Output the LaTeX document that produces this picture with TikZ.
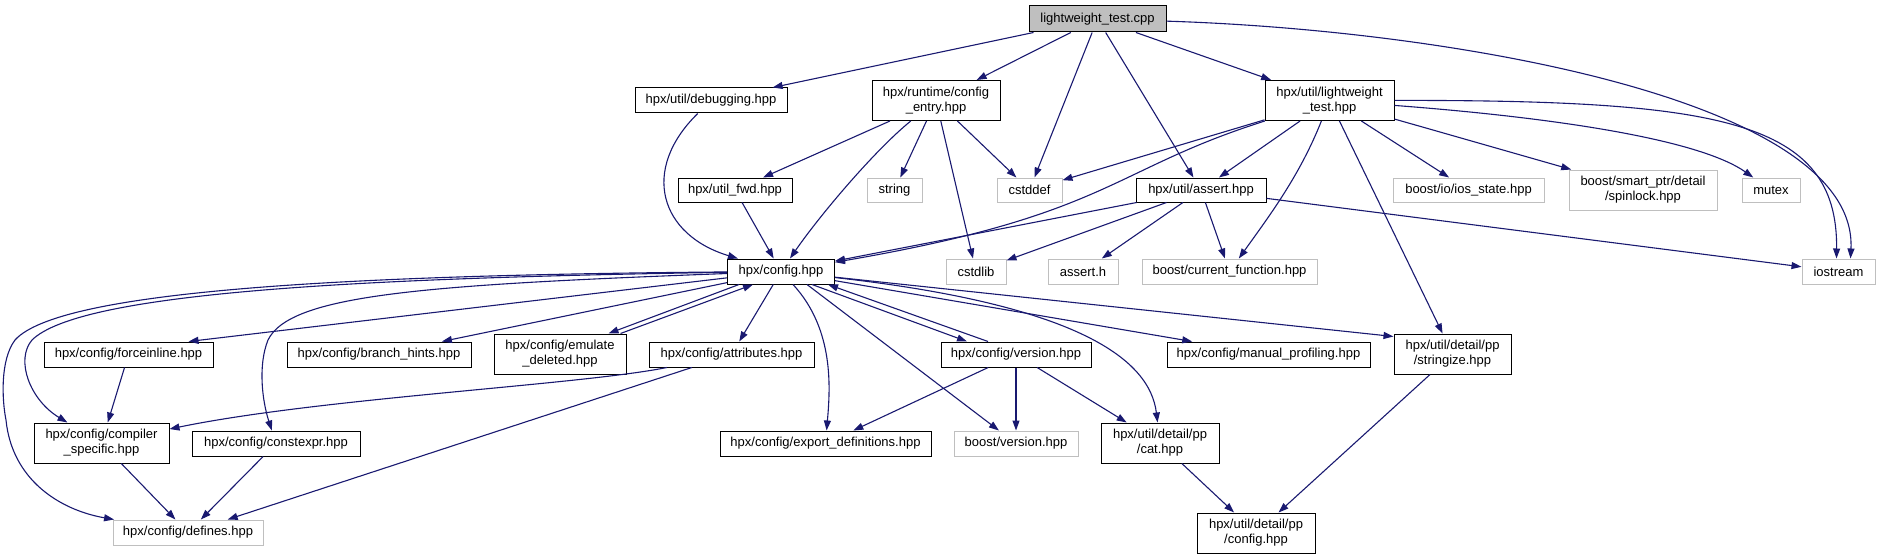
\documentclass[tikz,border=0pt]{standalone}
\usepackage{fontspec}
\setmainfont{Liberation Sans}
\usetikzlibrary{arrows.meta,positioning,calc}
\definecolor{incblue}{HTML}{191970}
\definecolor{extgray}{HTML}{BFBFBF}

\begin{document}
\begin{tikzpicture}[x=1pt, y=-1pt, font=\fontsize{13}{15}\selectfont, >={Triangle[length=10pt,width=7pt]},
  file/.style={draw=black, fill=white, line width=1pt, inner sep=0pt, minimum height=25pt, align=center},
  tall/.style={minimum height=40pt},
  ext/.style={file, draw=extgray},
  inc/.style={->, draw=incblue, line width=1.1pt}]

\useasboundingbox (0,0) rectangle (1878,559);

% Root file
\node[file, fill=extgray, minimum width=137pt, minimum height=26pt] (root) at (1097.5,19) {lightweight\_test.cpp};

% First row
\node[file, minimum width=152pt] (dbg) at (711,100.5) {hpx/util/debugging.hpp};
\node[file, tall, minimum width=128pt] (entry) at (936,100.5) {hpx/runtime/config\\\_entry.hpp};
\node[file, tall, minimum width=129pt] (lwt) at (1329.5,100.5) {hpx/util/lightweight\\\_test.hpp};

% Second row
\node[file, minimum width=114pt, minimum height=24pt] (fwd) at (735,190) {hpx/util\_fwd.hpp};
\node[ext, minimum width=55pt, minimum height=24pt] (string) at (894.5,190) {string};
\node[ext, minimum width=65pt, minimum height=24pt] (cstddef) at (1029.5,190) {cstddef};
\node[file, minimum width=130pt, minimum height=24pt] (assert) at (1201,190) {hpx/util/assert.hpp};
\node[ext, minimum width=151pt, minimum height=24pt] (ios) at (1468.5,190) {boost/io/ios\_state.hpp};
\node[ext, tall, minimum width=148pt] (spin) at (1643,190) {boost/smart\_ptr/detail\\/spinlock.hpp};
\node[ext, minimum width=58pt, minimum height=24pt] (mutex) at (1771,190) {mutex};

% Third row
\node[file, minimum width=107pt] (cfg) at (781,271.5) {hpx/config.hpp};
\node[ext, minimum width=60pt] (cstdlib) at (976,271.5) {cstdlib};
\node[ext, minimum width=70pt] (asserth) at (1083,271.5) {assert.h};
\node[ext, minimum width=175pt] (curfn) at (1229.5,271.5) {boost/current\_function.hpp};
\node[ext, minimum width=73pt] (iostream) at (1838.5,271.5) {iostream};

% Fourth row
\node[file, minimum width=169pt] (force) at (128.5,354.5) {hpx/config/forceinline.hpp};
\node[file, minimum width=184pt] (branch) at (379,354.5) {hpx/config/branch\_hints.hpp};
\node[file, tall, minimum width=132pt] (emu) at (560,354) {hpx/config/emulate\\\_deleted.hpp};
\node[file, minimum width=165pt] (attr) at (731.5,354.5) {hpx/config/attributes.hpp};
\node[file, minimum width=150pt] (ver) at (1016,354.5) {hpx/config/version.hpp};
\node[file, minimum width=203pt] (manual) at (1268.5,354.5) {hpx/config/manual\_profiling.hpp};
\node[file, tall, minimum width=117pt] (stringize) at (1452.5,354) {hpx/util/detail/pp\\/stringize.hpp};

% Fifth row
\node[file, tall, minimum width=135pt] (compiler) at (101.5,443) {hpx/config/compiler\\\_specific.hpp};
\node[file, minimum width=168pt] (constexpr) at (276,443.5) {hpx/config/constexpr.hpp};
\node[file, minimum width=211pt] (export) at (825.5,443.5) {hpx/config/export\_definitions.hpp};
\node[ext, minimum width=124pt] (bver) at (1016,443.5) {boost/version.hpp};
\node[file, tall, minimum width=118pt] (cat) at (1160,443) {hpx/util/detail/pp\\/cat.hpp};

% Bottom row
\node[ext, minimum width=150pt] (defines) at (188,532.5) {hpx/config/defines.hpp};
\node[file, tall, minimum width=118pt] (ppcfg) at (1256,533) {hpx/util/detail/pp\\/config.hpp};

% Includes of the root
\draw[inc] (root) -- (dbg);
\draw[inc] (root) -- (entry);
\draw[inc] (root) -- (cstddef);
\draw[inc] (root) -- (assert);
\draw[inc] (root) -- (lwt);
\draw[inc] (root) .. controls (1450,30) and (1858,100) .. ([xshift=12pt]iostream.north);

% debugging, config_entry, util_fwd
\draw[inc] (dbg) .. controls (640,170) and (660,235) .. (cfg);
\draw[inc] (entry) -- (fwd);
\draw[inc] (entry) .. controls (875,150) and (820,215) .. (cfg);
\draw[inc] (entry) -- (string);
\draw[inc] (entry) -- (cstdlib);
\draw[inc] (entry) -- (cstddef);
\draw[inc] (fwd) -- (cfg);

% lightweight_test.hpp
\draw[inc] (lwt) -- (cstddef);
\draw[inc] (lwt) .. controls (1110,170) and (1110,215) .. (cfg);
\draw[inc] (lwt) -- (assert);
\draw[inc] (lwt) .. controls (1300,175) and (1270,215) .. (curfn);
\draw[inc] (lwt) -- (stringize);
\draw[inc] (lwt) -- (ios);
\draw[inc] (lwt) -- (spin);
\draw[inc] (lwt) .. controls (1560,118) and (1700,140) .. (mutex);
\draw[inc] (lwt) .. controls (1720,100) and (1838,120) .. ([xshift=-2pt]iostream.north);

% assert.hpp
\draw[inc] (assert) -- (cfg);
\draw[inc] (assert) -- (cstdlib);
\draw[inc] (assert) -- (asserth);
\draw[inc] (assert) -- (curfn);
\draw[inc] (assert) -- (iostream);

% config.hpp
\draw[inc] (cfg) .. controls (350,275) and (60,290) .. (15,340) .. controls (0,360) and (2,400) .. (6,420) .. controls (12,480) and (60,510) .. (defines);
\draw[inc] (cfg) .. controls (350,278) and (80,293) .. (32,340) .. controls (15,360) and (30,400) .. (compiler);
\draw[inc] (cfg) .. controls (420,285) and (290,295) .. (268,340) .. controls (258,365) and (262,400) .. (constexpr);
\draw[inc] (cfg) -- ([xshift=-25pt]force.north east);
\draw[inc] (cfg) -- (branch);
\draw[inc] ([xshift=12pt]cfg.south west) -- ([xshift=-18pt]emu.north east);
\draw[inc] ([xshift=-6pt]emu.north east) -- ([xshift=26pt]cfg.south west);
\draw[inc] (cfg) -- (attr);
\draw[inc] (cfg) .. controls (835,330) and (830,390) .. (export);
\draw[inc] ([xshift=26pt]cfg.south) -- (bver);
\draw[inc] ([xshift=31pt]cfg.south) -- ([xshift=-49pt]ver.north);
\draw[inc] ([xshift=-28pt]ver.north) -- ([xshift=47pt]cfg.south);
\draw[inc] (cfg) .. controls (1080,305) and (1150,360) .. (cat);
\draw[inc] (cfg) -- (manual);
\draw[inc] (cfg) -- ([yshift=-3pt]stringize.north west);

% Lower levels
\draw[inc] (force) -- (compiler);
\draw[inc] (attr) .. controls (580,385) and (320,398) .. (compiler);
\draw[inc] (attr) -- (defines);
\draw[inc] (compiler) -- (defines);
\draw[inc] (constexpr) -- (defines);
\draw[inc] (ver) -- (export);
\draw[inc] (ver) -- (bver);
\draw[inc] (ver) -- (cat);
\draw[inc] (cat) -- (ppcfg);
\draw[inc] (stringize) -- (ppcfg);

\end{tikzpicture}
\end{document}
